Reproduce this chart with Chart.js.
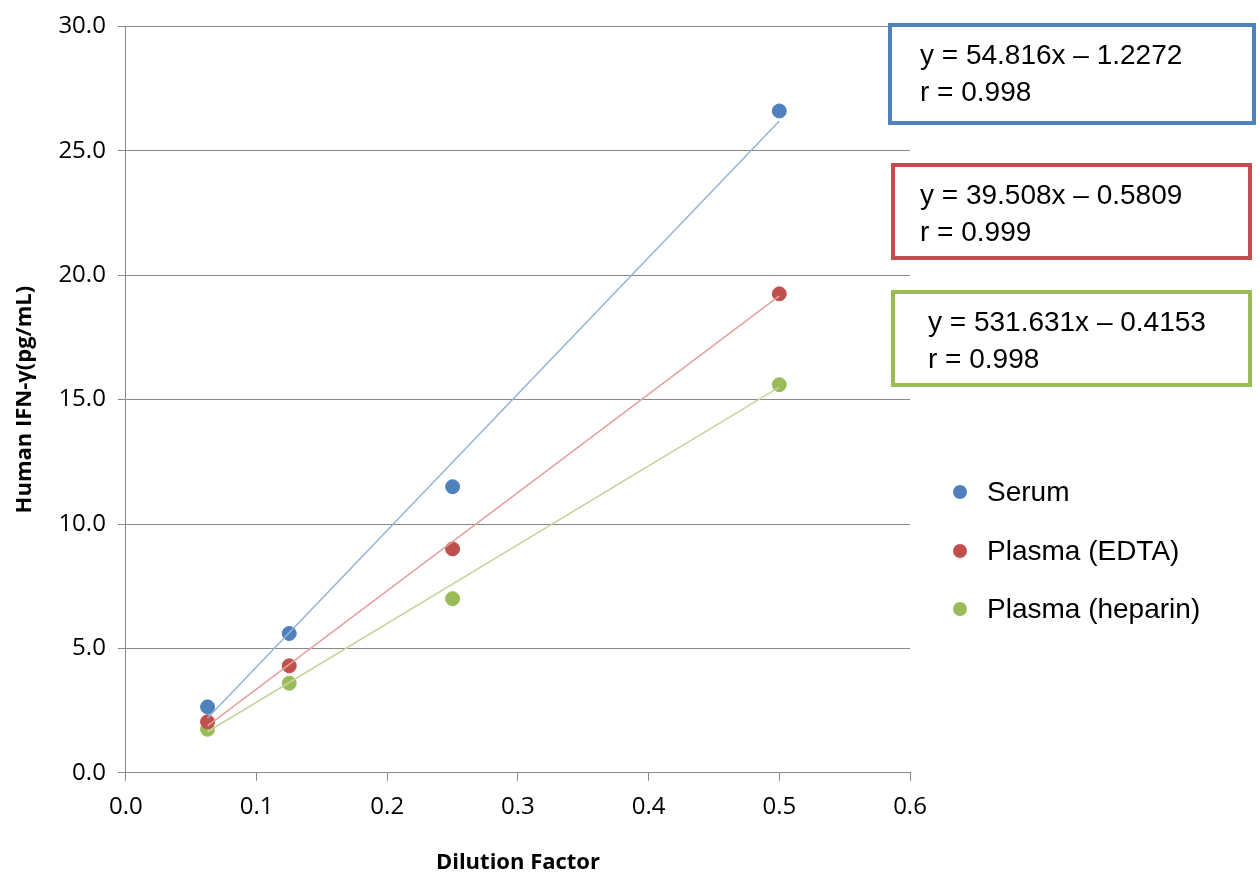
<!DOCTYPE html>
<html>
<head>
<meta charset="utf-8">
<script src="https://cdn.jsdelivr.net/npm/chart.js@4"></script>
<style>
  html, body { margin: 0; padding: 0; background: white; }
  #wrap { width: 1260px; height: 894px; }
</style>
</head>
<body>
<div id="wrap"><canvas id="chart"></canvas></div>
<script>
const dilution = [0.0625, 0.125, 0.25, 0.5];
const serum = [2.65, 5.6, 11.5, 26.6];
const edta = [2.05, 4.3, 9.0, 19.25];
const heparin = [1.75, 3.6, 7.0, 15.6];

// trendline endpoints
const trendX = [0.0625, 0.5];
const serumTrend = [2.2, 26.2];
const edtaTrend = [1.89, 19.17];
const heparinTrend = [1.65, 15.5];

const names = ["Serum", "Plasma (EDTA)", "Plasma (heparin)"];
const colors = ["#4f81bd", "#c0504d", "#9bbb59"];
const lineColors = ["#95b3d7", "#e6a09e", "#c3d69b"];
const equations = [
  ["y = 54.816x \u2013 1.2272", "r = 0.998"],
  ["y = 39.508x \u2013 0.5809", "r = 0.999"],
  ["y = 531.631x \u2013 0.4153", "r = 0.998"],
];

const pts = (xs, ys) => xs.map((x, i) => ({ x: x, y: ys[i] }));

const boxes = {
  id: "boxes",
  afterDraw(chart) {
    const ctx = chart.ctx;
    ctx.save();
    ctx.font = "28px 'Liberation Sans', Arial, sans-serif";
    ctx.textBaseline = "middle";
    const rects = [[890, 25, 364, 98, 920], [893, 165, 357, 93, 920], [893, 292, 357, 93, 928]];
    rects.forEach((r, i) => {
      ctx.strokeStyle = colors[i];
      ctx.lineWidth = 4;
      ctx.strokeRect(r[0], r[1], r[2], r[3]);
      ctx.fillStyle = "#000";
      ctx.fillText(equations[i][0], r[4], r[1] + 31);
      ctx.fillText(equations[i][1], r[4], r[1] + 68);
    });
    const ly = [492, 551, 609];
    names.forEach((n, i) => {
      ctx.fillStyle = colors[i];
      ctx.beginPath();
      ctx.arc(960, ly[i], 7, 0, Math.PI * 2);
      ctx.fill();
      ctx.fillStyle = "#000";
      ctx.fillText(n, 987, ly[i] + 1);
    });
    ctx.restore();
  },
};

const datasets = [];
[serumTrend, edtaTrend, heparinTrend].forEach((t, i) => {
  datasets.push({
    type: "line", data: pts(trendX, t), borderColor: lineColors[i],
    borderWidth: 1.5, pointRadius: 0, showLine: true,
  });
});
[serum, edta, heparin].forEach((s, i) => {
  datasets.push({
    type: "scatter", label: names[i], data: pts(dilution, s),
    backgroundColor: colors[i], borderColor: colors[i], pointRadius: 7,
  });
});

const tickFont = { size: 24, family: "'Open Sans', sans-serif" };
const titleFont = { size: 22, weight: "bold", family: "'Open Sans', sans-serif" };

new Chart(document.getElementById("chart"), {
  type: "scatter",
  data: { datasets: datasets },
  options: {
    responsive: true,
    maintainAspectRatio: false,
    animation: false,
    layout: { padding: { top: 15, right: 350, bottom: 18, left: 12 } },
    plugins: { legend: { display: false }, tooltip: { enabled: false } },
    scales: {
      x: {
        type: "linear", min: 0, max: 0.6,
        ticks: { stepSize: 0.1, color: "#000", font: tickFont, padding: 12, callback: (v) => v.toFixed(1) },
        grid: { display: true, drawOnChartArea: false, color: "#888", tickLength: 8 },
        border: { color: "#888" },
        title: { display: true, text: "Dilution Factor", color: "#000", font: titleFont, padding: { top: 16, bottom: 0 } },
      },
      y: {
        min: 0, max: 30,
        ticks: { stepSize: 5, color: "#000", font: tickFont, padding: 12, callback: (v) => v.toFixed(1) },
        grid: { color: "#888", tickLength: 8 },
        border: { color: "#888" },
        title: { display: true, text: "Human IFN-\u03b3(pg/mL)", color: "#000", font: titleFont, padding: { top: 0, bottom: 8 } },
      },
    },
  },
  plugins: [boxes],
});
</script>
</body>
</html>
